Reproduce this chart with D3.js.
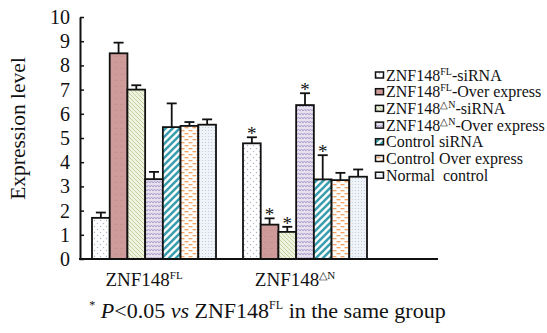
<!DOCTYPE html>
<html><head><meta charset="utf-8">
<script src="https://cdn.jsdelivr.net/npm/d3@7"></script>
</head><body style="margin:0;background:#fff"><svg id="c" width="547" height="333" font-family="Liberation Serif" style="display:block"></svg>
<script>
const groupBase = ["ZNF148", "ZNF148"];
const groupSup = ["FL", "\u25B3N"];
const seriesPre = ["ZNF148", "ZNF148", "ZNF148", "ZNF148", "Control siRNA", "Control Over express", "Normal\u00A0 control"];
const seriesSup = ["FL", "FL", "\u25B3N", "\u25B3N", "", "", ""];
const seriesPost = ["-siRNA", "-Over express", "-siRNA", "-Over express", "", "", ""];
const valuesFL = [1.7, 8.5, 7.0, 3.3, 5.45, 5.5, 5.55];
const errFL = [0.22, 0.44, 0.18, 0.3, 0.98, 0.16, 0.22];
const valuesDN = [4.78, 1.42, 1.12, 6.36, 3.29, 3.26, 3.4];
const errDN = [0.25, 0.26, 0.21, 0.49, 1.0, 0.3, 0.3];
const sigFL = [0, 0, 0, 0, 0, 0, 0];
const sigDN = [1, 1, 1, 1, 1, 0, 0];
const yTicks = [0, 1, 2, 3, 4, 5, 6, 7, 8, 9, 10];

const FONT = "Liberation Serif";
const INK = "#111";
const svg = d3.select("#c");
const defs = svg.append("defs");
function pat(id, w, h, bg) {
  const p = defs.append("pattern").attr("id", id).attr("patternUnits", "userSpaceOnUse").attr("width", w).attr("height", h);
  p.append("rect").attr("width", w).attr("height", h).attr("fill", bg);
  return p;
}
let p;
p = pat("p0", 6, 6, "#ffffff");
p.append("circle").attr("cx", 1.5).attr("cy", 1.5).attr("r", 0.7).attr("fill", "#aab4c4");
p.append("circle").attr("cx", 4.5).attr("cy", 4.5).attr("r", 0.7).attr("fill", "#aab4c4");
p = pat("p1", 6, 6, "#cf9b9a");
p.append("rect").attr("x", 0).attr("y", 2).attr("width", 3).attr("height", 0.6).attr("fill", "#c28a8a");
p = pat("p2", 4, 4, "#eef2df");
p.append("path").attr("d", "M-1,-1 L5,5 M-1,3 L1,5 M3,-1 L5,1").attr("stroke", "#bdd09a").attr("stroke-width", 0.9);
p = pat("p3", 6, 4, "#e7e0ef");
p.append("path").attr("d", "M0,3 L1.5,1 L3,3 L4.5,1 L6,3").attr("stroke", "#a698c6").attr("stroke-width", 0.9).attr("fill", "none");
p = pat("p4", 7, 7, "#ffffff");
p.append("path").attr("d", "M-1,8 L8,-1 M-4.5,4.5 L4.5,-4.5 M2.5,11.5 L11.5,2.5").attr("stroke", "#3b9eae").attr("stroke-width", 2.6);
p = pat("p5", 8, 6, "#ffffff");
p.append("rect").attr("x", 0.5).attr("y", 1).attr("width", 4).attr("height", 1.3).attr("fill", "#f2a468");
p.append("rect").attr("x", 4.5).attr("y", 4).attr("width", 4).attr("height", 1.3).attr("fill", "#f2a468");
p.append("rect").attr("x", -3.5).attr("y", 4).attr("width", 4).attr("height", 1.3).attr("fill", "#f2a468");
p = pat("p6", 3, 3, "#f0f3f8");
p.append("circle").attr("cx", 1.5).attr("cy", 1.5).attr("r", 0.6).attr("fill", "#bccadb");
const fills = ["url(#p0)", "url(#p1)", "url(#p2)", "url(#p3)", "url(#p4)", "url(#p5)", "url(#p6)"];

const y = d3.scaleLinear().domain([0, 10]).range([259, 17]);
const x0 = d3.scaleBand().domain([0, 1]).range([92, 367]).paddingInner(27 / 151).paddingOuter(0);
const x1 = d3.scaleBand().domain(d3.range(7)).range([0, x0.bandwidth()]).padding(0);

const data = [
  {vals: valuesFL, errs: errFL, sig: sigFL},
  {vals: valuesDN, errs: errDN, sig: sigDN}
];

const g = svg.append("g");
data.forEach((grp, gi) => {
  grp.vals.forEach((v, si) => {
    const bx = x0(gi) + x1(si), bw = x1.bandwidth();
    const cx = bx + bw / 2, top = y(v + grp.errs[si]);
    g.append("line").attr("x1", cx).attr("x2", cx).attr("y1", y(v)).attr("y2", top).attr("stroke", INK).attr("stroke-width", 1.8);
    g.append("line").attr("x1", cx - 5).attr("x2", cx + 5).attr("y1", top).attr("y2", top).attr("stroke", INK).attr("stroke-width", 1.8);
    g.append("rect").attr("x", bx).attr("y", y(v)).attr("width", bw).attr("height", y(0) - y(v))
      .attr("fill", fills[si]).attr("stroke", INK).attr("stroke-width", 1.8);
    if (grp.sig[si]) {
      g.append("text").attr("x", cx).attr("y", top + 3).attr("text-anchor", "middle").attr("font-size", 19).attr("fill", INK).text("*");
    }
  });
});

// axes
const ax = d3.axisLeft(y).tickValues(yTicks).tickSizeInner(-4).tickSizeOuter(0).tickPadding(10).tickFormat(d3.format("d"));
const ag = svg.append("g").attr("transform", "translate(80,0)").call(ax).attr("font-size", 20);
ag.select(".domain").attr("stroke", INK).attr("stroke-width", 2);
ag.selectAll(".tick line").attr("stroke", INK).attr("stroke-width", 1.5);
ag.selectAll(".tick text").attr("fill", INK);
svg.append("line").attr("x1", 79).attr("x2", 438).attr("y1", y(0)).attr("y2", y(0)).attr("stroke", INK).attr("stroke-width", 2);

// group labels
groupBase.forEach((b, gi) => {
  const t = svg.append("text").attr("x", x0(gi) + x0.bandwidth() / 2 - 10).attr("y", 286).attr("text-anchor", "middle").attr("font-size", 19).attr("fill", INK);
  t.append("tspan").text(b);
  t.append("tspan").attr("font-size", 11).attr("dy", -7).text(groupSup[gi]);
});

// y label
svg.append("text").attr("transform", "translate(25,128.5) rotate(-90)").attr("text-anchor", "middle").attr("font-size", 21.5).attr("fill", INK).text("Expression level");

// legend
const leg = svg.append("g");
seriesPre.forEach((s, i) => {
  const ly = 75 + i * 16.7;
  leg.append("rect").attr("x", 375.5).attr("y", ly - 3).attr("width", 8).attr("height", 6).attr("fill", fills[i]).attr("stroke", INK).attr("stroke-width", 1.5);
  const t = leg.append("text").attr("x", 386).attr("y", ly + 5.5).attr("font-size", 16).attr("fill", INK);
  t.append("tspan").text(s);
  if (seriesSup[i]) {
    t.append("tspan").attr("font-size", 10).attr("dy", -6).text(seriesSup[i]);
    t.append("tspan").attr("dy", 6).text(seriesPost[i]);
  }
});

// footnote
const f = svg.append("text").attr("x", 267.5).attr("y", 318).attr("text-anchor", "middle").attr("font-size", 22).attr("fill", INK);
f.append("tspan").attr("font-size", 12).attr("dy", -9).text("*");
f.append("tspan").attr("dy", 9).text(" ");
f.append("tspan").attr("font-style", "italic").text("P");
f.append("tspan").text("<0.05 ");
f.append("tspan").attr("font-style", "italic").text("vs");
f.append("tspan").text(" ZNF148");
f.append("tspan").attr("font-size", 12).attr("dy", -9).text("FL");
f.append("tspan").attr("dy", 9).text(" in the same group");

svg.selectAll("text, tspan").attr("font-family", FONT);
</script></body></html>
